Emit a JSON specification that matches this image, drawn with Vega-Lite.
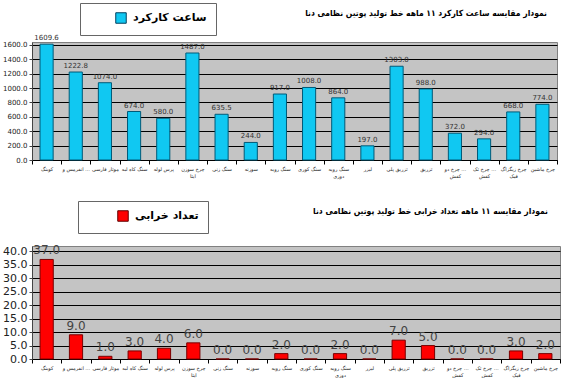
{
  "$schema": "https://vega.github.io/schema/vega-lite/v6.json",
  "padding": {"left": 2, "top": 2, "right": 5, "bottom": 0},
  "background": "white",
  "config": {
    "font": "DejaVu Sans",
    "view": {"fill": "#c4c4c4", "stroke": "#808080"},
    "concat": {"spacing": 21}
  },
  "data": {
    "values": [
      {"name": "کوبنگ", "hours": 1609.6, "failures": 37},
      {"name": "انفرمس و پیچ", "hours": 1222.8, "failures": 9},
      {"name": "موتار فارسی", "hours": 1074.0, "failures": 1},
      {"name": "سنگ کاه لبه", "hours": 674.0, "failures": 3},
      {"name": "پرس لوله", "hours": 580.0, "failures": 4},
      {"name": "چرخ سوزن|ایتا", "hours": 1487.0, "failures": 6},
      {"name": "سنگ زنی", "hours": 635.5, "failures": 0},
      {"name": "سوزنه", "hours": 244.0, "failures": 0},
      {"name": "سنگ رویه", "hours": 917.0, "failures": 2},
      {"name": "سنگ کوری", "hours": 1008.0, "failures": 0},
      {"name": "سنگ رویه|دوزی", "hours": 864.0, "failures": 2},
      {"name": "لیزر", "hours": 197.0, "failures": 0},
      {"name": "تزریق پلی", "hours": 1303.0, "failures": 7},
      {"name": "تزریق", "hours": 988.0, "failures": 5},
      {"name": "چرخ دو سوزنه|کفش", "hours": 372.0, "failures": 0},
      {"name": "چرخ تک سوزنه|کفش", "hours": 294.0, "failures": 0},
      {"name": "چرخ زیگزاگ|فیک", "hours": 668.0, "failures": 3},
      {"name": "چرخ ماشین", "hours": 774.0, "failures": 2}
    ]
  },
  "vconcat": [
    {
      "width": 525,
      "height": 118,
      "title": {
        "text": "نمودار مقایسه ساعت کارکرد ۱۱ ماهه خط تولید پوتین نظامی دنا",
        "anchor": "end",
        "frame": "group",
        "fontSize": 8.5,
        "fontWeight": "bold",
        "font": "DejaVu Sans Condensed",
        "offset": -15,
        "dx": -10
      },
      "encoding": {
        "x": {
          "field": "name",
          "type": "nominal",
          "sort": null,
          "scale": {"padding": 0},
          "axis": {
            "title": null,
            "labelAngle": 0,
            "labelExpr": "split(datum.label, '|')",
            "labelFontSize": 5,
            "labelColor": "#222",
            "labelLimit": 28,
            "tickBand": "extent",
            "tickColor": "black",
            "domainColor": "black",
            "tickSize": 4
          }
        },
        "y": {
          "field": "hours",
          "type": "quantitative",
          "scale": {"domain": [0, 1640], "nice": false},
          "axis": {
            "title": null,
            "values": [0, 200, 400, 600, 800, 1000, 1200, 1400, 1600],
            "format": ".1f",
            "labelFontSize": 7,
            "labelColor": "#222",
            "gridColor": "black",
            "gridWidth": 1,
            "domainColor": "#444",
            "tickColor": "#444",
            "tickSize": 3
          }
        }
      },
      "layer": [
        {
          "mark": {"type": "bar", "width": {"band": 0.45}, "stroke": "#005a78", "strokeWidth": 1},
          "encoding": {
            "color": {
              "datum": "ساعت کارکرد",
              "scale": {"range": ["#10c8f2"]},
              "legend": {
                "title": null,
                "orient": "none",
                "legendX": 48,
                "legendY": -39,
                "padding": 9,
                "strokeColor": "#666",
                "fillColor": "white",
                "symbolType": "square",
                "symbolSize": 110,
                "symbolStrokeColor": "#004060",
                "symbolStrokeWidth": 1,
                "symbolOffset": 26,
                "labelFont": "DejaVu Sans",
                "labelFontSize": 11,
                "labelFontWeight": "bold",
                "labelColor": "black",
                "labelOffset": 6
              }
            }
          }
        },
        {
          "mark": {"type": "text", "dy": -6, "fontSize": 7, "color": "#333"},
          "encoding": {
            "text": {"field": "hours", "type": "quantitative", "format": ".1f"}
          }
        }
      ]
    },
    {
      "width": 528,
      "height": 113,
      "title": {
        "text": "نمودار مقایسه ۱۱ ماهه تعداد خرابی خط تولید پوتین نظامی دنا",
        "anchor": "end",
        "frame": "group",
        "fontSize": 8.5,
        "fontWeight": "bold",
        "font": "DejaVu Sans Condensed",
        "offset": -15,
        "dx": -12
      },
      "encoding": {
        "x": {
          "field": "name",
          "type": "nominal",
          "sort": null,
          "scale": {"padding": 0},
          "axis": {
            "title": null,
            "labelAngle": 0,
            "labelExpr": "split(datum.label, '|')",
            "labelFontSize": 5,
            "labelColor": "#222",
            "labelLimit": 28,
            "tickBand": "extent",
            "tickColor": "black",
            "domainColor": "black",
            "tickSize": 4
          }
        },
        "y": {
          "field": "failures",
          "type": "quantitative",
          "scale": {"domain": [0, 42], "nice": false},
          "axis": {
            "title": null,
            "values": [0, 5, 10, 15, 20, 25, 30, 35, 40],
            "format": ".1f",
            "labelFontSize": 11,
            "labelColor": "#222",
            "gridColor": "black",
            "gridWidth": 1,
            "domainColor": "#444",
            "tickColor": "#444",
            "tickSize": 3
          }
        }
      },
      "layer": [
        {
          "mark": {"type": "bar", "width": {"band": 0.45}, "stroke": "#7a0000", "strokeWidth": 1},
          "encoding": {
            "color": {
              "datum": "تعداد خرابی",
              "scale": {"range": ["#ff0000"]},
              "legend": {
                "title": null,
                "orient": "none",
                "legendX": 46,
                "legendY": -45,
                "padding": 9,
                "strokeColor": "#666",
                "fillColor": "white",
                "symbolType": "square",
                "symbolSize": 110,
                "symbolStrokeColor": "#600000",
                "symbolStrokeWidth": 1,
                "symbolOffset": 30,
                "labelFont": "DejaVu Sans",
                "labelFontSize": 11,
                "labelFontWeight": "bold",
                "labelColor": "black",
                "labelOffset": 6
              }
            }
          }
        },
        {
          "mark": {"type": "text", "dy": -9, "fontSize": 12, "color": "#444"},
          "encoding": {
            "text": {"field": "failures", "type": "quantitative", "format": ".1f"}
          }
        }
      ]
    }
  ],
  "resolve": {"scale": {"color": "independent"}}
}
